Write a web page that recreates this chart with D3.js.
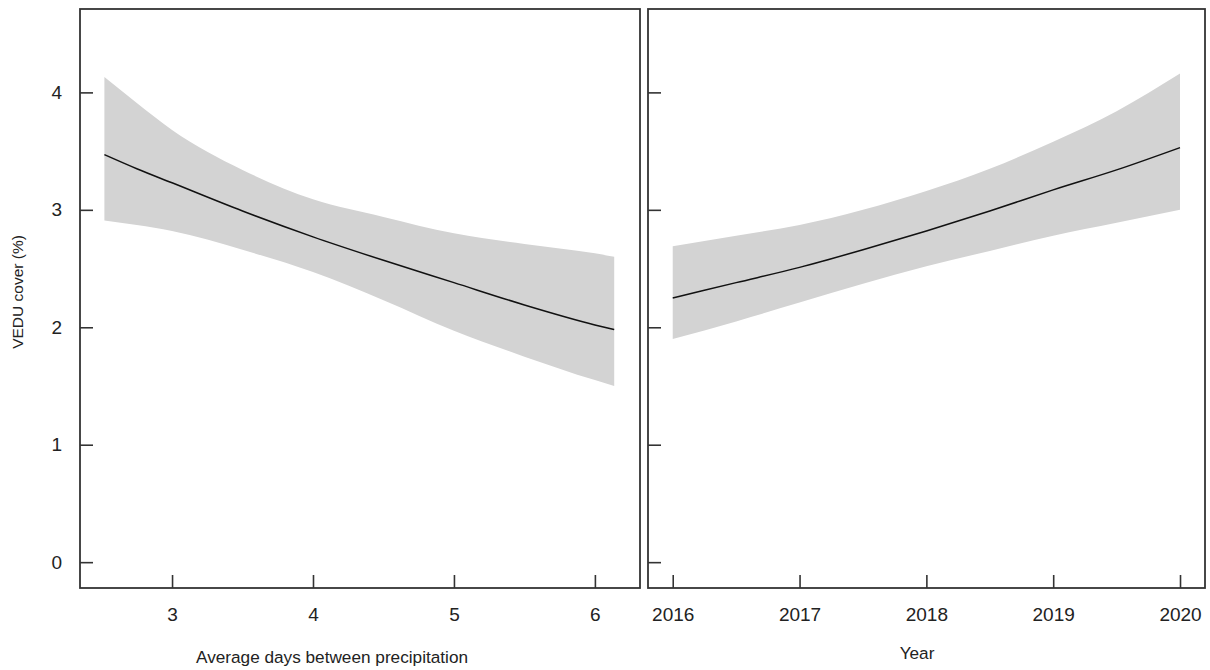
<!DOCTYPE html>
<html>
<head>
<meta charset="utf-8">
<script src="https://cdn.jsdelivr.net/npm/d3@7"></script>
<style>
  body { margin: 0; background: #fff; }
  text { font-family: "Liberation Sans", Arial, sans-serif; fill: #222; }
</style>
</head>
<body>
<script>
var w = 1210;
var h = 670;

// left panel: average days between precipitation
var daysX     = [2.52, 2.75, 3, 3.5, 4, 4.5, 5, 5.5, 6, 6.137];
var daysFit   = [3.47, 3.35, 3.23, 2.99, 2.77, 2.57, 2.38, 2.19, 2.02, 1.98];
var daysUpper = [4.13, 3.91, 3.68, 3.34, 3.09, 2.94, 2.80, 2.71, 2.63, 2.60];
var daysLower = [2.91, 2.87, 2.82, 2.66, 2.47, 2.23, 1.97, 1.75, 1.55, 1.50];

// right panel: year
var yearX     = [2016, 2016.5, 2017, 2017.5, 2018, 2018.5, 2019, 2019.5, 2020];
var yearFit   = [2.25, 2.38, 2.51, 2.66, 2.82, 2.99, 3.17, 3.34, 3.53];
var yearUpper = [2.69, 2.78, 2.87, 3.00, 3.16, 3.35, 3.58, 3.84, 4.16];
var yearLower = [1.90, 2.05, 2.21, 2.37, 2.52, 2.65, 2.78, 2.89, 3.00];

var yTicks = [0, 1, 2, 3, 4];
var daysTicks = [3, 4, 5, 6];
var yearTicks = [2016, 2017, 2018, 2019, 2020];

var plotTop = 9, plotBottom = 588;

var svg = d3.select("body")
            .append("svg")
            .attr("width", w)
            .attr("height", h);

var y = d3.scaleLinear().domain([-0.22, 4.71]).range([plotBottom, plotTop]);

function panel(x, xs, fit, upper, lower, xTicks, showY) {
    var g = svg.append("g");
    var rows = xs.map(function(v, i) {
        return {x: v, fit: fit[i], hi: upper[i], lo: lower[i]};
    });

    var area = d3.area()
                 .curve(d3.curveMonotoneX)
                 .x(function(d) { return x(d.x); })
                 .y0(function(d) { return y(d.lo); })
                 .y1(function(d) { return y(d.hi); });
    var line = d3.line()
                 .curve(d3.curveMonotoneX)
                 .x(function(d) { return x(d.x); })
                 .y(function(d) { return y(d.fit); });

    g.append("path").attr("d", area(rows)).attr("fill", "#d3d3d3");
    g.append("path").attr("d", line(rows))
     .attr("fill", "none").attr("stroke", "#111").attr("stroke-width", 1.5);

    var yAxis = d3.axisLeft(y).tickValues(yTicks).tickFormat(showY ? d3.format("d") : "")
                  .tickSizeInner(-13).tickSizeOuter(0).tickPadding(18);
    var ya = g.append("g").attr("transform", "translate(" + x.range()[0] + ",0)").call(yAxis);

    var xAxis = d3.axisBottom(x).tickValues(xTicks).tickFormat(d3.format("d"))
                  .tickSizeInner(-13).tickSizeOuter(0).tickPadding(20);
    var xa = g.append("g").attr("transform", "translate(0," + plotBottom + ")").call(xAxis);

    [ya, xa].forEach(function(a) {
        a.select(".domain").remove();
        a.selectAll(".tick line").attr("stroke", "#333").attr("stroke-width", 1.6);
        a.selectAll(".tick text").attr("font-size", "19px")
         .attr("font-family", "'Liberation Sans', Arial, sans-serif").attr("fill", "#222");
    });

    g.append("rect")
     .attr("x", x.range()[0]).attr("y", plotTop)
     .attr("width", x.range()[1] - x.range()[0]).attr("height", plotBottom - plotTop)
     .attr("fill", "none").attr("stroke", "#333").attr("stroke-width", 1.8);
}

var xDays = d3.scaleLinear().domain([2.347, 6.32]).range([80, 640]);
var xYear = d3.scaleLinear().domain([2015.805, 2020.197]).range([648, 1205]);

panel(xDays, daysX, daysFit, daysUpper, daysLower, daysTicks, true);
panel(xYear, yearX, yearFit, yearUpper, yearLower, yearTicks, false);

svg.append("text")
   .attr("x", 332).attr("y", 663)
   .attr("text-anchor", "middle").attr("font-size", "17.2px")
   .text("Average days between precipitation");

svg.append("text")
   .attr("x", 917).attr("y", 659)
   .attr("text-anchor", "middle").attr("font-size", "17.2px")
   .text("Year");

svg.append("text")
   .attr("transform", "translate(23,292) rotate(-90)")
   .attr("text-anchor", "middle").attr("font-size", "15.5px")
   .text("VEDU cover (%)");
</script>
</body>
</html>
